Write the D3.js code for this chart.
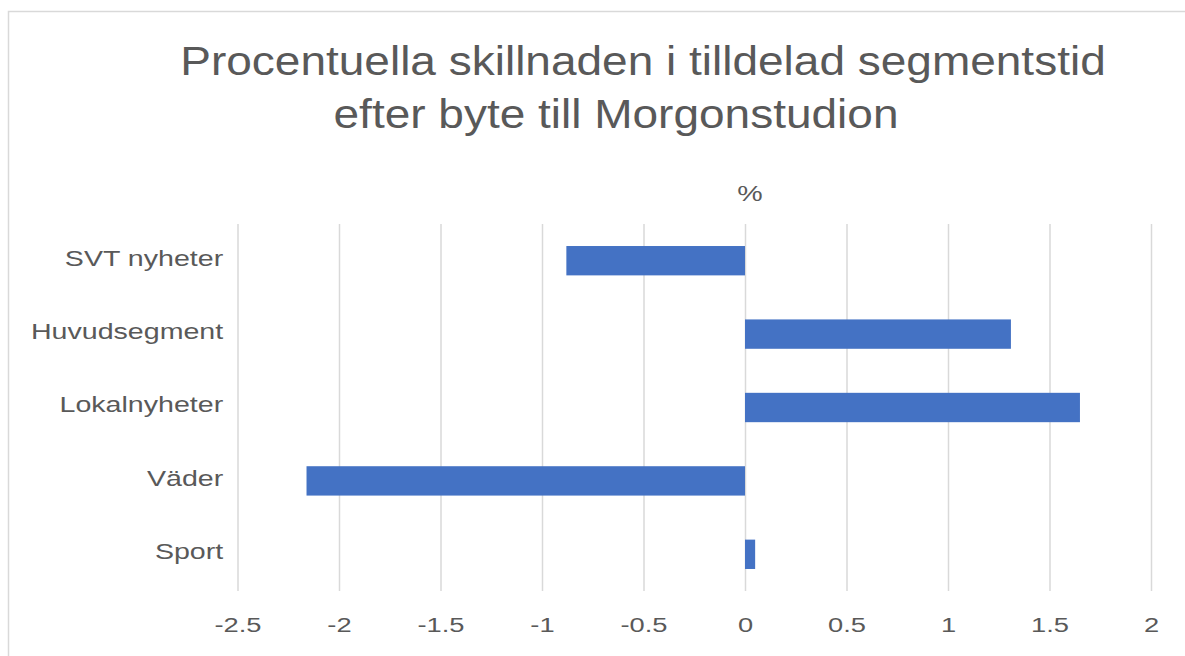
<!DOCTYPE html>
<html>
<head>
<meta charset="utf-8">
<script src="https://cdn.jsdelivr.net/npm/d3@7"></script>
<style>
    body { margin: 0; background: #fff; }
    text { font-family: "Liberation Sans", Arial, sans-serif; fill: #595959; }
</style>
</head>
<body>
<div id="chart"></div>
<script>
const categories = ["SVT nyheter", "Huvudsegment", "Lokalnyheter", "Väder", "Sport"];
const values = [-0.88, 1.31, 1.65, -2.16, 0.05];
const xTicks = [-2.5, -2, -1.5, -1, -0.5, 0, 0.5, 1, 1.5, 2];
const titleLines = ["Procentuella skillnaden i tilldelad segmentstid", "efter byte till Morgonstudion"];
const axisTitle = "%";

const drawChart = function() {
    const W = 1185, H = 656;
    const margin = {top: 224, right: 34, bottom: 65, left: 237.5},
        width = W - margin.left - margin.right,
        height = H - margin.top - margin.bottom;
    const stretch = 1.3; // text in the picture is wider than Arial

    const data = categories.map(function(c, i) { return {cat: c, val: values[i]} });

    const x = d3.scaleLinear()
        .domain([-2.5, 2])
        .range([0, width]);

    const y = d3.scaleBand()
        .domain(categories)
        .range([0, height])
        .paddingInner(0.6)
        .paddingOuter(0.3);

    const root = d3.select("#chart").append("svg")
        .attr("width", W)
        .attr("height", H);

    // chart frame
    root.append("rect")
        .attr("x", 8.5).attr("y", 11.5)
        .attr("width", W + 20).attr("height", H + 20)
        .attr("fill", "none")
        .attr("stroke", "#d9d9d9")
        .attr("stroke-width", 1.5);

    const svg = root.append("g")
        .attr("transform", "translate(" + margin.left + "," + margin.top + ")");

    // grid + x labels
    const xAxis = svg.append("g")
        .attr("class", "x axis")
        .attr("transform", "translate(0," + height + ")")
        .call(d3.axisBottom(x)
            .tickValues(xTicks)
            .tickSize(-height)
            .tickPadding(26)
            .tickFormat(d3.format("")));
    xAxis.select(".domain").remove();
    xAxis.selectAll("line")
        .attr("stroke", "#d9d9d9")
        .attr("stroke-width", 1.5);
    xAxis.selectAll("text")
        .style("font-size", "21px")
        .attr("fill", "#595959")
        .attr("transform", "scale(" + stretch + ",1)")
        .text(function(d) { return d3.format("")(d).replace("−", "-") });

    // bars
    svg.selectAll(".bar")
        .data(data)
        .enter().append("rect")
        .attr("class", "bar")
        .attr("x", function(d) { return x(Math.min(0, d.val)) })
        .attr("y", function(d) { return y(d.cat) })
        .attr("width", function(d) { return Math.abs(x(d.val) - x(0)) })
        .attr("height", y.bandwidth())
        .attr("fill", "#4472c4");

    // category labels
    const yAxis = svg.append("g")
        .attr("class", "y axis")
        .call(d3.axisLeft(y).tickSize(0).tickPadding(11));
    yAxis.select(".domain").remove();
    yAxis.selectAll("text")
        .style("font-size", "22px")
        .attr("fill", "#595959")
        .attr("dy", "0.22em")
        .attr("transform", "scale(" + stretch + ",1)");

    // axis title
    root.append("text")
        .attr("transform", "translate(" + (margin.left + x(0) + 5) + ",201) scale(" + stretch + ",1)")
        .style("text-anchor", "middle")
        .style("font-size", "22px")
        .text(axisTitle);

    // chart title
    const titlePos = [[643, 75], [616, 128]];
    titleLines.forEach(function(t, i) {
        root.append("text")
            .attr("transform", "translate(" + titlePos[i][0] + "," + titlePos[i][1] + ") scale(1.15,1)")
            .style("text-anchor", "middle")
            .style("font-size", "40px")
            .text(t);
    });
};

drawChart();
</script>
</body>
</html>
